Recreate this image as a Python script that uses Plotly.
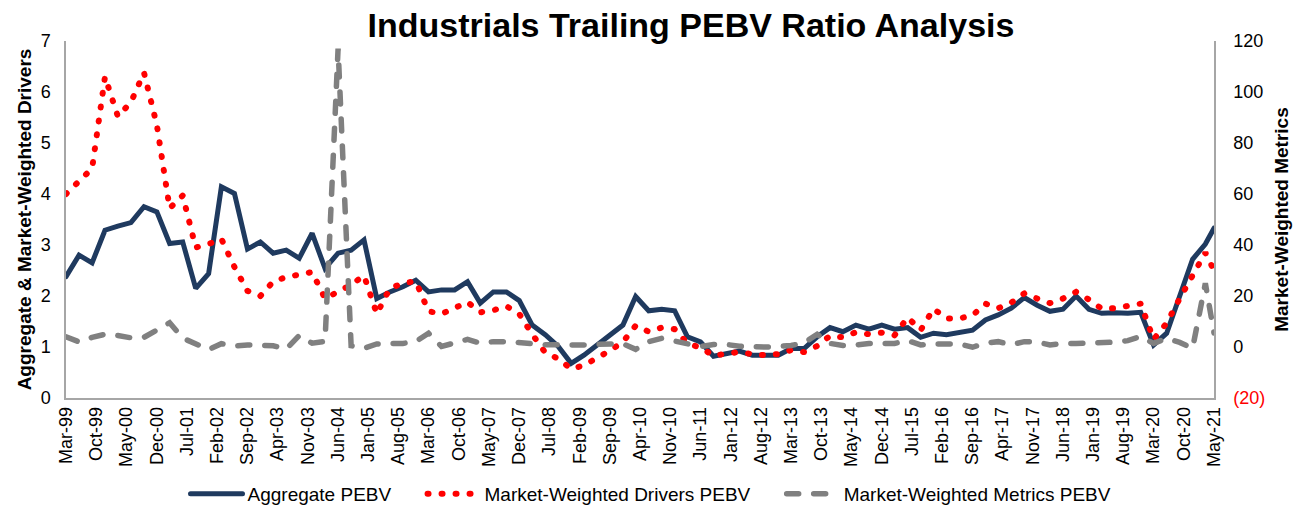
import pandas as pd
import plotly.graph_objects as go

# ---------------- data ----------------
tick_labels = ["Mar-99", "Oct-99", "May-00", "Dec-00", "Jul-01", "Feb-02", "Sep-02", "Apr-03",
               "Nov-03", "Jun-04", "Jan-05", "Aug-05", "Mar-06", "Oct-06", "May-07", "Dec-07",
               "Jul-08", "Feb-09", "Sep-09", "Apr-10", "Nov-10", "Jun-11", "Jan-12", "Aug-12",
               "Mar-13", "Oct-13", "May-14", "Dec-14", "Jul-15", "Feb-16", "Sep-16", "Apr-17",
               "Nov-17", "Jun-18", "Jan-19", "Aug-19", "Mar-20", "Oct-20", "May-21"]

# quarterly observations Mar-99 .. Mar-21, plus latest (May-21)
dates = list(pd.date_range("1999-03-01", "2021-03-01", freq="3MS")) + [pd.Timestamp("2021-05-01")]

aggregate_pebv = [
    2.38, 2.80, 2.65, 3.29, 3.37, 3.44, 3.75, 3.65, 3.03, 3.06,
    2.15, 2.44, 4.14, 4.01, 2.92, 3.06, 2.84, 2.90, 2.74, 3.23,
    2.54, 2.84, 2.90, 3.10, 1.95, 2.08, 2.18, 2.31, 2.08, 2.12,
    2.12, 2.28, 1.86, 2.08, 2.08, 1.91, 1.43, 1.24, 1.01, 0.68,
    0.84, 1.04, 1.24, 1.43, 1.99, 1.71, 1.74, 1.71, 1.20, 1.10,
    0.82, 0.88, 0.92, 0.84, 0.84, 0.84, 0.97, 0.97, 1.20, 1.38,
    1.30, 1.43, 1.35, 1.43, 1.35, 1.38, 1.19, 1.27, 1.24, 1.28,
    1.33, 1.53, 1.63, 1.76, 1.97, 1.82, 1.70, 1.74, 2.00, 1.74,
    1.66, 1.67, 1.66, 1.68, 1.04, 1.27, 2.03, 2.72, 3.02, 3.33]

drivers_pebv = [
    4.00, 4.27, 4.50, 6.30, 5.52, 5.80, 6.38, 5.35, 3.72, 3.97,
    2.95, 3.02, 3.12, 2.57, 2.10, 2.00, 2.28, 2.37, 2.42, 2.47,
    1.95, 2.08, 2.22, 2.40, 1.65, 2.15, 2.25, 2.29, 1.70, 1.65,
    1.76, 1.88, 1.68, 1.72, 1.80, 1.65, 1.25, 0.89, 0.77, 0.57,
    0.64, 0.78, 0.93, 1.10, 1.42, 1.30, 1.38, 1.35, 1.07, 0.99,
    0.83, 0.87, 0.90, 0.86, 0.84, 0.86, 0.94, 0.90, 1.02, 1.22,
    1.19, 1.29, 1.25, 1.28, 1.23, 1.58, 1.33, 1.75, 1.56, 1.56,
    1.62, 1.85, 1.76, 1.87, 2.05, 1.95, 1.86, 1.95, 2.08, 1.93,
    1.75, 1.76, 1.82, 1.85, 1.15, 1.47, 1.95, 2.42, 2.85, 2.50]

metrics_pebv = [
    4.0, 2.0, 3.8, 5.0, 4.5, 3.6, 3.8, 6.5, 9.5, 3.5,
    1.5, -1.0, 1.3, 0.4, 0.8, 0.8, 0.5, -0.8, 4.5, 1.5,
    2.2, 117.0, 0.5, -0.5, 1.2, 1.4, 1.4, 2.1, 5.4, 0.2,
    1.7, 3.0, 1.5, 2.1, 2.1, 1.9, 1.3, 0.9, 0.8, 0.8,
    0.8, 1.1, 1.4, 1.3, -0.9, 2.1, 3.4, 2.4, 1.4, 0.2,
    1.0, 1.0, 0.3, 0.0, 0.0, 0.2, 0.6, 1.6, 5.0, 1.4,
    0.6, 0.8, 1.4, 1.4, 1.4, 2.5, 0.8, 1.2, 1.3, 1.2,
    -0.1, 1.5, 2.1, 0.9, 2.1, 2.0, 0.8, 1.4, 1.4, 1.4,
    1.6, 1.9, 2.5, 4.2, 1.4, 3.4, 1.8, -0.5, 25.0, 5.5]

series_names = ["Aggregate PEBV", "Market-Weighted Drivers PEBV", "Market-Weighted Metrics PEBV"]

left_ticks = [0, 1, 2, 3, 4, 5, 6, 7]
right_ticks = [-20, 0, 20, 40, 60, 80, 100, 120]
right_tick_text = ['<span style="color:#FF0000">(20)</span>', "0", "20", "40", "60", "80", "100", "120"]

# ---------------- figure ----------------
FONT = "Liberation Sans, Arial, sans-serif"
tick_dates = [pd.to_datetime(t, format="%b-%y") for t in tick_labels]
pad = "&nbsp;" * 5

fig = go.Figure()
fig.add_trace(go.Scatter(x=dates, y=aggregate_pebv, name=series_names[0] + pad, mode="lines",
                         line=dict(color="#1F3A5F", width=5), yaxis="y"))
fig.add_trace(go.Scatter(x=dates, y=drivers_pebv, name=series_names[1] + pad, mode="lines",
                         line=dict(color="#FF0000", width=6, dash="1px,13px"), yaxis="y"))
fig.add_trace(go.Scatter(x=dates, y=metrics_pebv, name=series_names[2], mode="lines",
                         line=dict(color="#808080", width=5.5, dash="12px,15px"), yaxis="y2"))

axis_line = "#A6A6A6"
fig.update_layout(
    width=1306, height=508,
    margin=dict(l=66, r=92, t=41, b=110, autoexpand=False),
    paper_bgcolor="white", plot_bgcolor="white",
    font=dict(family=FONT, color="#000000", size=18),
    title=dict(text="<b>Industrials Trailing PEBV Ratio Analysis</b>",
               font=dict(family=FONT, size=34, color="#000000"),
               x=691 / 1306, xanchor="center", xref="container",
               y=1 - 25 / 508, yanchor="middle", yref="container", automargin=False),
    xaxis=dict(type="date", range=[dates[0], dates[-1]], automargin=False,
               tickvals=tick_dates, ticktext=tick_labels, tickangle=-90,
               tickfont=dict(size=18), showgrid=False, zeroline=False,
               showline=True, linecolor=axis_line, linewidth=1.5, ticks=""),
    yaxis=dict(range=[0, 7], tickvals=left_ticks, tickfont=dict(size=18), automargin=False,
               showgrid=False, zeroline=False, showline=True, linecolor=axis_line,
               linewidth=1.5, ticks="", ticklabelstandoff=10,
               title=dict(text="<b>Aggregate & Market-Weighted Drivers</b>",
                          font=dict(size=19), standoff=4)),
    yaxis2=dict(range=[-20, 120], overlaying="y", side="right", automargin=False,
                tickvals=right_ticks, ticktext=right_tick_text, tickfont=dict(size=18),
                showgrid=False, zeroline=False, showline=True, linecolor=axis_line,
                linewidth=1.5, ticks="", ticklabelstandoff=14,
                title=dict(text="<b>Market-Weighted Metrics</b>", font=dict(size=19), standoff=10)),
    legend=dict(orientation="h", xref="container", yref="container",
                x=651 / 1306, xanchor="center", y=14 / 508, yanchor="middle",
                font=dict(size=19), itemwidth=52, tracegroupgap=0),
    showlegend=True,
)

post = ("document.body.style.margin='0';"
        "var s=document.createElement('style');"
        "s.innerHTML='body{margin:0 !important;} .scatterlayer .js-line, .legend .js-line {stroke-linecap: round !important;}';"
        "document.head.appendChild(s);")
fig.write_html("out.html", post_script=post, config={"displayModeBar": False})
